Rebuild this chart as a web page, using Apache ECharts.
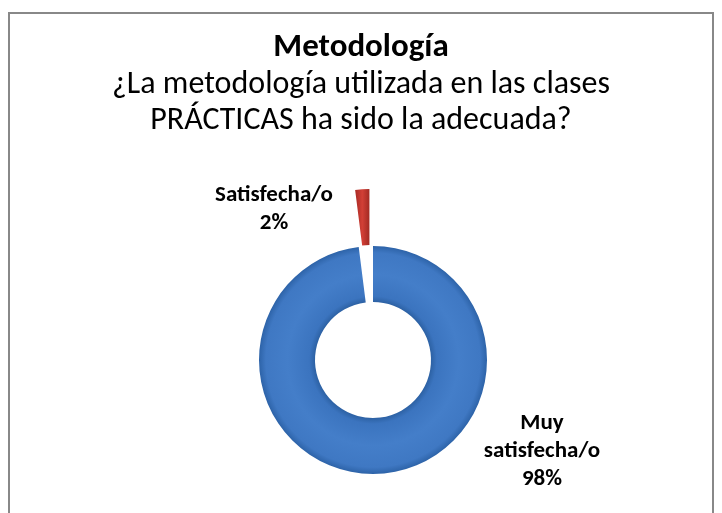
<!DOCTYPE html>
<html>
<head>
<meta charset="utf-8">
<script src="https://cdn.jsdelivr.net/npm/echarts@6/dist/echarts.min.js"></script>
<style>
  html, body { margin: 0; padding: 0; background: #fff; }
  #chart { width: 722px; height: 513px; }
</style>
</head>
<body>
<div id="chart"></div>
<script>
// datos del gráfico
const categories = ['Muy satisfecha/o', 'Satisfecha/o'];
const values = [98, 2];
const labelTexts = ['Muy\nsatisfecha/o\n98%', 'Satisfecha/o\n2%'];
const titleText = 'Metodología';
const subtitleText = '¿La metodología utilizada en las clases\nPRÁCTICAS ha sido la adecuada?';

const font = 'Carlito, "Noto Sans", sans-serif';
const cx = 373, cy = 360, rIn = 58, rOut = 114;
const explode = 57;   // separación del sector pequeño (Satisfecha/o)

const blueFill = {
    type: 'radial', x: cx, y: cy, r: rOut, global: true,
    colorStops: [
        {offset: 0.50, color: '#2a5e9f'},
        {offset: 0.56, color: '#3b74bf'},
        {offset: 0.75, color: '#447ec9'},
        {offset: 0.94, color: '#3f78c3'},
        {offset: 1.00, color: '#2d63a8'}
    ]
};
const redFill = new echarts.graphic.LinearGradient(0, 0, 1, 0, [
    {offset: 0, color: '#a82b25'},
    {offset: 0.5, color: '#d23f36'},
    {offset: 1, color: '#a22a23'}
]);
const fills = [blueFill, redFill];

// posiciones de las etiquetas (estilo, no datos)
const labelPos = [
    {x: 542, y: 451},
    {x: 274, y: 209}
];

// ángulo medio del sector separado -> desplazamiento del centro
const total = values.reduce((a, b) => a + b, 0);
const midDeg = 90 + (values[1] / total) * 360 / 2;
const ex = cx + Math.cos(midDeg * Math.PI / 180) * explode;
const ey = cy - Math.sin(midDeg * Math.PI / 180) * explode;

const myChart = echarts.init(document.getElementById('chart'));

function pieSeries(center, shownIndex) {
    return {
        type: 'pie',
        center: center,
        radius: [rIn, rOut],
        startAngle: 90,
        clockwise: true,
        silent: true,
        avoidLabelOverlap: false,
        animation: false,
        label: {
            show: true,
            position: 'outside',
            formatter: (p) => labelTexts[p.dataIndex],
            fontFamily: font,
            fontSize: 23,
            fontWeight: 'bold',
            color: '#000',
            lineHeight: 28,
            align: 'center'
        },
        labelLine: {show: false},
        labelLayout: (p) => ({
            x: labelPos[p.dataIndex].x,
            y: labelPos[p.dataIndex].y,
            align: 'center',
            verticalAlign: 'middle'
        }),
        data: categories.map((name, i) => ({
            name: name,
            value: values[i],
            label: {show: i === shownIndex},
            itemStyle: {color: i === shownIndex ? fills[i] : 'rgba(0,0,0,0)', borderWidth: 0}
        }))
    };
}

const option = {
    backgroundColor: '#fff',
    title: [{
        text: titleText,
        left: 'center',
        top: 26,
        padding: [5, 0, 5, 18],
        textStyle: {fontFamily: font, fontSize: 33, fontWeight: 'bold', color: '#000'}
    }, {
        text: subtitleText,
        left: 'center',
        top: 62,
        padding: [5, 0, 5, 18],
        textStyle: {fontFamily: font, fontSize: 32, fontWeight: 'normal', color: '#000', lineHeight: 36}
    }],
    graphic: [{
        type: 'polyline',
        shape: {points: [[9, 513], [9, 13], [713, 13], [713, 513]]},
        style: {stroke: '#888', lineWidth: 2, fill: null},
        silent: true
    }],
    series: [
        pieSeries([cx, cy], 0),
        pieSeries([ex, ey], 1)
    ]
};
myChart.setOption(option);
</script>
</body>
</html>
